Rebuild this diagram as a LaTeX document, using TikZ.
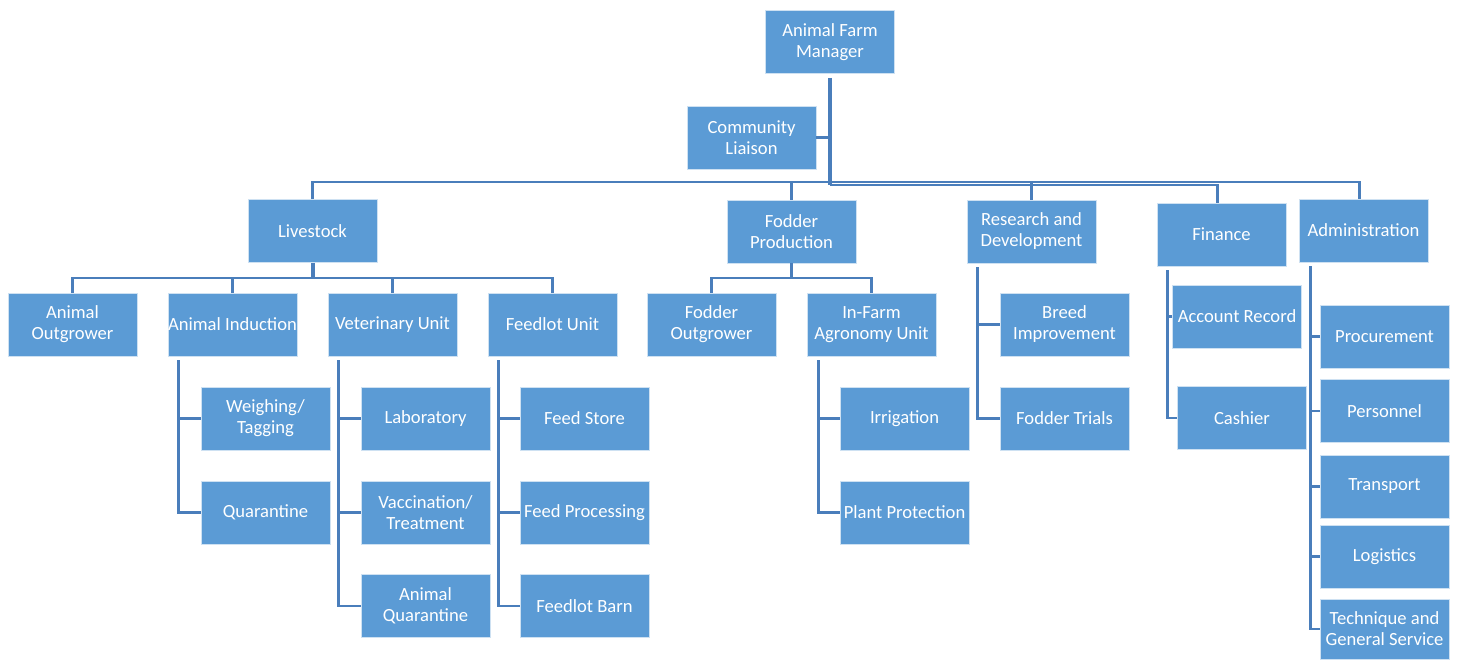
\documentclass[tikz,border=0pt]{standalone}
\usepackage{fontspec}
\setmainfont{Carlito}
\definecolor{boxblue}{HTML}{5B9BD5}
\definecolor{linkblue}{HTML}{4A7EBB}
\begin{document}
\begin{tikzpicture}[x=1pt,y=-1pt,
  box/.style={fill=boxblue,draw=white!70!boxblue,line width=0.8pt,text=white,
    minimum width=129pt,minimum height=63pt,inner sep=0pt,align=center,
    font=\fontsize{18.6}{21}\selectfont},
  conn/.style={draw=linkblue,line width=2.4pt},
  heavy/.style={draw=linkblue,line width=4pt}]
\useasboundingbox (0,0) rectangle (1458,659);
% level 0/1
\node[box] (mgr) at (830,42) {Animal Farm\\Manager};
\node[box] (cl) at (751.5,137.5) {Community\\Liaison};
\node[box] (live) at (312.5,231) {Livestock};
\node[box] (fod) at (791.5,231.5) {Fodder\\Production};
\node[box] (rd) at (1031.5,231.5) {Research and\\Development};
\node[box] (fin) at (1221.5,234.5) {Finance};
\node[box] (adm) at (1363.5,230.5) {Administration};
% livestock children
\node[box] (ao) at (72.5,324.5) {Animal\\Outgrower};
\node[box] (ai) at (232.5,324.5) {Animal Induction};
\node[box] (vu) at (392.5,324.5) {Veterinary Unit};
\node[box] (fu) at (552.5,324.5) {Feedlot Unit};
\node[box] (wt) at (265.5,418.5) {Weighing/\\Tagging};
\node[box] (qu) at (265.5,512.5) {Quarantine};
\node[box] (lab) at (425.5,418.5) {Laboratory};
\node[box] (vac) at (425.5,512.5) {Vaccination/\\Treatment};
\node[box] (aq) at (425.5,606) {Animal\\Quarantine};
\node[box] (fs) at (584.5,418.5) {Feed Store};
\node[box] (fp) at (584.5,512.5) {Feed Processing};
\node[box] (fb) at (584.5,606) {Feedlot Barn};
% fodder children
\node[box] (fo) at (711.5,324.5) {Fodder\\Outgrower};
\node[box] (ifa) at (871.5,324.5) {In-Farm\\Agronomy Unit};
\node[box] (irr) at (904.5,418.5) {Irrigation};
\node[box] (pp) at (904.5,512.5) {Plant Protection};
% R&D children
\node[box] (bi) at (1064.5,324.5) {Breed\\Improvement};
\node[box] (ft) at (1064.5,418.5) {Fodder Trials};
% finance children
\node[box] (ar) at (1237,316.5) {Account Record};
\node[box] (ca) at (1242,418) {Cashier};
% administration children
\node[box] (pro) at (1384.5,336.5) {Procurement};
\node[box] (per) at (1384.5,411) {Personnel};
\node[box] (tra) at (1384.5,486.5) {Transport};
\node[box] (log) at (1384.5,556.5) {Logistics};
\node[box,minimum height=60pt] (tec) at (1384.5,629) {Technique and\\General Service};
% bus coordinates
\coordinate (busA) at (0,182);
\coordinate (busB) at (0,185);
\coordinate (busL) at (0,278);
\coordinate (admtop) at ([xshift=-4pt]adm.north);
\coordinate (fintop) at ([xshift=-4pt]fin.north);
% top connectors
\draw[heavy] ([yshift=-4pt]mgr.south) -- (mgr.south |- busB);
\draw[conn] (cl.east) -- (cl.east -| mgr.south);
\draw[conn] (live.north) -- (live.north |- busA) -| (admtop);
\draw[conn] (fod.north) -- (fod.north |- busA);
\draw[conn] (rd.north) -- (rd.north |- busA);
\draw[conn] (mgr.south |- busB) -| (fintop);
% livestock level
\draw[heavy] (live.south) -- (live.south |- busL);
\draw[conn] (ao.north) -- (ao.north |- busL) -| (fu.north);
\draw[conn] (ai.north) -- (ai.north |- busL);
\draw[conn] (vu.north) -- (vu.north |- busL);
% fodder level
\draw[conn] (fod.south) -- (fod.south |- busL);
\draw[conn] (fo.north) -- (fo.north |- busL) -| (ifa.north);
% spines
\coordinate (aisp) at ([xshift=11pt,yshift=-4pt]ai.south west);
\coordinate (vusp) at ([xshift=11pt,yshift=-4pt]vu.south west);
\coordinate (fusp) at ([xshift=11pt,yshift=-4pt]fu.south west);
\coordinate (ifsp) at ([xshift=12pt,yshift=-4pt]ifa.south west);
\coordinate (rdsp) at ([xshift=11pt,yshift=-4pt]rd.south west);
\coordinate (fisp) at ([xshift=11pt,yshift=-4pt]fin.south west);
\coordinate (adsp) at ([xshift=12pt,yshift=-4pt]adm.south west);
\draw[conn] (aisp) |- (qu.west);
\draw[conn] (wt.west) -- (wt.west -| aisp);
\draw[conn] (vusp) |- (aq.west);
\draw[conn] (lab.west) -- (lab.west -| vusp);
\draw[conn] (vac.west) -- (vac.west -| vusp);
\draw[conn] (fusp) |- (fb.west);
\draw[conn] (fs.west) -- (fs.west -| fusp);
\draw[conn] (fp.west) -- (fp.west -| fusp);
\draw[conn] (ifsp) |- (pp.west);
\draw[conn] (irr.west) -- (irr.west -| ifsp);
\draw[conn] (rdsp) |- (ft.west);
\draw[conn] (bi.west) -- (bi.west -| rdsp);
\draw[conn] (fisp) |- (ca.west);
\draw[conn] (ar.west) -- (ar.west -| fisp);
\draw[conn] (adsp) |- (tec.west);
\draw[conn] (pro.west) -- (pro.west -| adsp);
\draw[conn] (per.west) -- (per.west -| adsp);
\draw[conn] (tra.west) -- (tra.west -| adsp);
\draw[conn] (log.west) -- (log.west -| adsp);
\end{tikzpicture}
\end{document}
